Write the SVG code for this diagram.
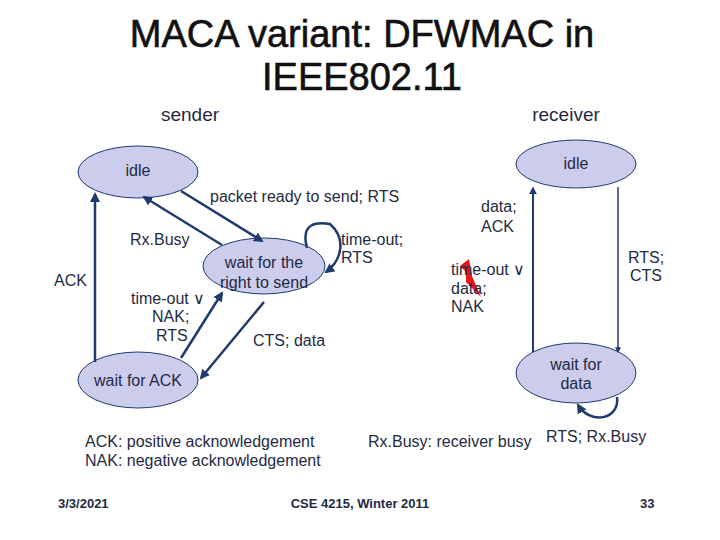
<svg xmlns="http://www.w3.org/2000/svg" width="720" height="540" viewBox="0 0 720 540">
<style>
text{font-family:"Liberation Sans",Arial,sans-serif;fill:#1f2a44}
.n{fill:#ccccec;stroke:#1f3a6e;stroke-width:1}
.c{fill:none;stroke:#1f3a6e;stroke-width:2.5;marker-end:url(#a)}
.t{font-size:16px}
</style>
<defs><marker id="a" viewBox="0 0 10 10" refX="8" refY="5" markerWidth="4" markerHeight="4" orient="auto"><path d="M0 0L10 5L0 10z" fill="#1f3a6e"/></marker></defs>
<rect width="720" height="540" fill="#fff"/>
<text x="362" y="47" font-size="38" text-anchor="middle" style="fill:#111;stroke:#111;stroke-width:0.6">MACA variant: DFWMAC in</text>
<text x="362" y="90" font-size="38" text-anchor="middle" style="fill:#111;stroke:#111;stroke-width:0.6">IEEE802.11</text>
<text x="190" y="121" font-size="19" text-anchor="middle">sender</text>
<text x="566" y="121" font-size="19" text-anchor="middle">receiver</text>
<g id="s_idle"><ellipse class="n" cx="138" cy="172" rx="60" ry="26"/><text class="t" x="138" y="176" text-anchor="middle">idle</text></g>
<g id="s_wait"><ellipse class="n" cx="264" cy="266" rx="61" ry="28"/><text class="t" x="264" y="268" text-anchor="middle">wait for the</text><text class="t" x="264" y="288" text-anchor="middle">right to send</text></g>
<g id="s_ack"><ellipse class="n" cx="138" cy="380" rx="60" ry="28"/><text class="t" x="138" y="386" text-anchor="middle">wait for ACK</text></g>
<g id="r_idle"><ellipse class="n" cx="576" cy="164" rx="60" ry="24"/><text class="t" x="576" y="169" text-anchor="middle">idle</text></g>
<g id="r_data"><ellipse class="n" cx="576" cy="373" rx="60" ry="30"/><text class="t" x="576" y="370" text-anchor="middle">wait for</text><text class="t" x="576" y="389" text-anchor="middle">data</text></g>
<g id="connectors">
<path class="c" d="M95 362V194"/>
<path class="c" d="M181 191L262 241"/>
<path class="c" d="M222 245L144 197"/>
<path class="c" d="M307 248C300 222 318 222 330 224C348 240 340 262 326 272"/>
<path class="c" d="M181 358L222 293"/>
<path class="c" d="M264 302L201 378"/>
<path class="c" d="M533 352V188" style="stroke-width:2"/>
<path class="c" d="M618 187V352" style="stroke-width:1.5"/>
<path class="c" d="M617 397C620 420 590 425 578 405"/>
</g>
<path d="M460 266L469 259L472 276L481 297L466 282L466 272z" fill="#e8141a"/>
<g class="t">
<text x="210" y="202">packet ready to send; RTS</text>
<text x="130" y="245">Rx.Busy</text>
<text x="54" y="286">ACK</text>
<text x="341" y="245">time-out;</text><text x="341" y="263">RTS</text>
<text x="131" y="304">time-out ∨</text><text x="152" y="322">NAK;</text><text x="156" y="341">RTS</text>
<text x="253" y="346">CTS; data</text>
<text x="481" y="212">data;</text><text x="481" y="232">ACK</text>
<text x="451" y="275">time-out ∨</text><text x="451" y="294">data;</text><text x="451" y="312">NAK</text>
<text x="628" y="263">RTS;</text><text x="630" y="281">CTS</text>
<text x="85" y="447">ACK: positive acknowledgement</text><text x="85" y="466">NAK: negative acknowledgement</text>
<text x="368" y="447">Rx.Busy: receiver busy</text>
<text x="546" y="442">RTS; Rx.Busy</text>
</g>
<text x="58" y="508" font-size="13" font-weight="bold">3/3/2021</text>
<text x="360" y="508" font-size="13" font-weight="bold" text-anchor="middle">CSE 4215, Winter 2011</text>
<text x="640" y="508" font-size="13" font-weight="bold">33</text>
</svg>
